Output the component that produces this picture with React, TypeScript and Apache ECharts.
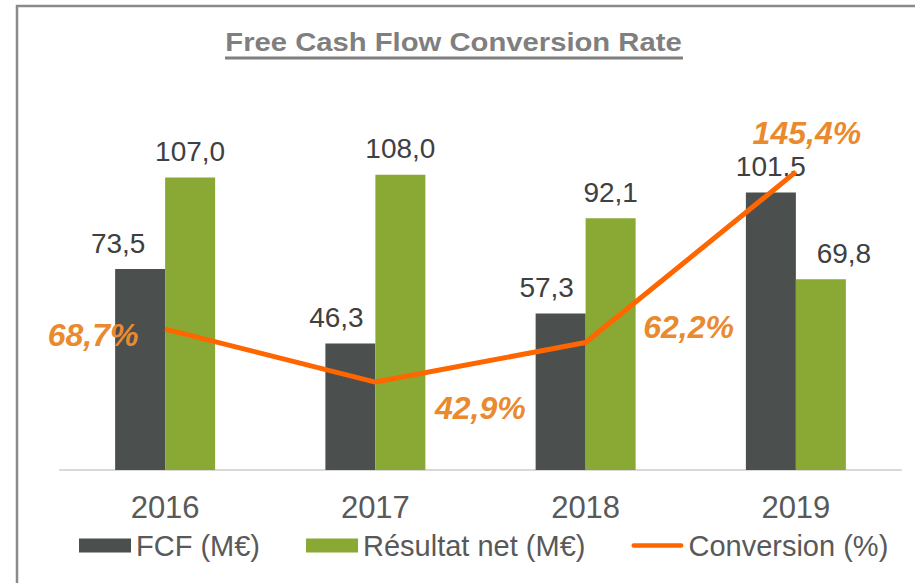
import React, { useEffect, useRef } from "react";
import * as echarts from "echarts";

const years = ["2016", "2017", "2018", "2019"];
const fcfValues = [73.5, 46.3, 57.3, 101.5];
const netValues = [107.0, 108.0, 92.1, 69.8];
const conversionValues = [68.7, 42.9, 62.2, 145.4];
const seriesNames = ["FCF (M€)", "Résultat net (M€)", "Conversion (%)"];
const titleText = "Free Cash Flow Conversion Rate";

// label offsets (style only)
const convLabelOffsets: [number, number][] = [
  [-72, 6],
  [105, 26],
  [103, -15],
  [11, -39],
];
const fcfLabelOffsets: [number, number][] = [
  [-22, 0],
  [-14, 0],
  [-14, 0],
  [0, 0],
];
const netLabelOffsets: [number, number][] = [
  [0, 0],
  [0, 0],
  [0, 0],
  [23, 0],
];

const FONT = "'Liberation Sans', Arial, sans-serif";

const fmt = (v: number) => v.toFixed(1).replace(".", ",");

export default function App() {
  const ref = useRef<HTMLDivElement>(null);

  useEffect(() => {
    if (!ref.current) return;
    const chart = echarts.init(ref.current, null, { renderer: "svg" });
    const barLabel = {
      show: true,
      position: "top",
      distance: 12,
      fontSize: 28,
      color: "#404040",
      fontFamily: FONT,
      formatter: (p: any) => fmt(p.value),
    };
    chart.setOption({
      animation: false,
      backgroundColor: "#ffffff",
      textStyle: { fontFamily: FONT },
      graphic: [
        {
          type: "rect",
          z: -1,
          shape: { x: 17, y: 6, width: 1000, height: 1000 },
          style: { fill: "none", stroke: "#8a8a8a", lineWidth: 2.5 },
          silent: true,
        },
        {
          type: "text",
          x: 453.5,
          y: 42,
          scaleX: 1.17,
          style: {
            text: titleText,
            font: `bold 25px ${FONT}`,
            fill: "#7f7f7f",
            textAlign: "center",
            textVerticalAlign: "middle",
          },
        },
        {
          type: "line",
          shape: { x1: 225, y1: 58, x2: 683, y2: 58 },
          style: { stroke: "#7f7f7f", lineWidth: 3 },
        },
      ],
      grid: { left: 60, right: 14, top: 60, bottom: 113 },
      legend: {
        left: 79,
        top: 531,
        padding: 0,
        itemWidth: 52,
        itemHeight: 14,
        itemGap: 46,
        textStyle: { fontSize: 29, color: "#595959", fontFamily: FONT },
        data: [
          { name: seriesNames[0], icon: "rect" },
          { name: seriesNames[1], icon: "rect" },
          {
            name: seriesNames[2],
            icon: "path://M2.5,0 H54.5 A2.5,2.5 0 0 1 54.5,5 H2.5 A2.5,2.5 0 0 1 2.5,0 Z",
          },
        ],
      },
      xAxis: {
        type: "category",
        data: years,
        axisLine: { show: true, lineStyle: { color: "#d9d9d9", width: 2 } },
        axisTick: { show: false },
        axisLabel: { fontSize: 31, color: "#595959", margin: 22, fontFamily: FONT },
      },
      yAxis: [
        { type: "value", min: 0, max: 150, show: false, splitLine: { show: false } },
        { type: "value", min: 0, max: 200, show: false, splitLine: { show: false } },
      ],
      series: [
        {
          name: seriesNames[0],
          type: "bar",
          data: fcfValues.map((v, i) => ({ value: v, label: { offset: fcfLabelOffsets[i] } })),
          barWidth: 50,
          barGap: "0%",
          itemStyle: { color: "#4b4f4e" },
          label: barLabel,
        },
        {
          name: seriesNames[1],
          type: "bar",
          data: netValues.map((v, i) => ({ value: v, label: { offset: netLabelOffsets[i] } })),
          barWidth: 50,
          barGap: "0%",
          itemStyle: { color: "#8aa834" },
          label: barLabel,
        },
        {
          name: seriesNames[2],
          type: "line",
          yAxisIndex: 1,
          z: 5,
          data: conversionValues.map((v, i) => ({
            value: v,
            label: { offset: convLabelOffsets[i] },
          })),
          symbol: "circle",
          symbolSize: 1,
          itemStyle: { color: "#ff6600" },
          lineStyle: { color: "#ff6600", width: 5 },
          label: {
            show: true,
            position: "inside",
            fontSize: 32,
            fontWeight: "bold",
            fontStyle: "italic",
            color: "#ea8a2e",
            fontFamily: FONT,
            formatter: (p: any) => fmt(p.value) + "%",
          },
        },
      ],
    });
    return () => chart.dispose();
  }, []);

  return (
    <div
      ref={ref}
      style={{ position: "fixed", left: 0, top: 0, width: 915, height: 583 }}
    />
  );
}
